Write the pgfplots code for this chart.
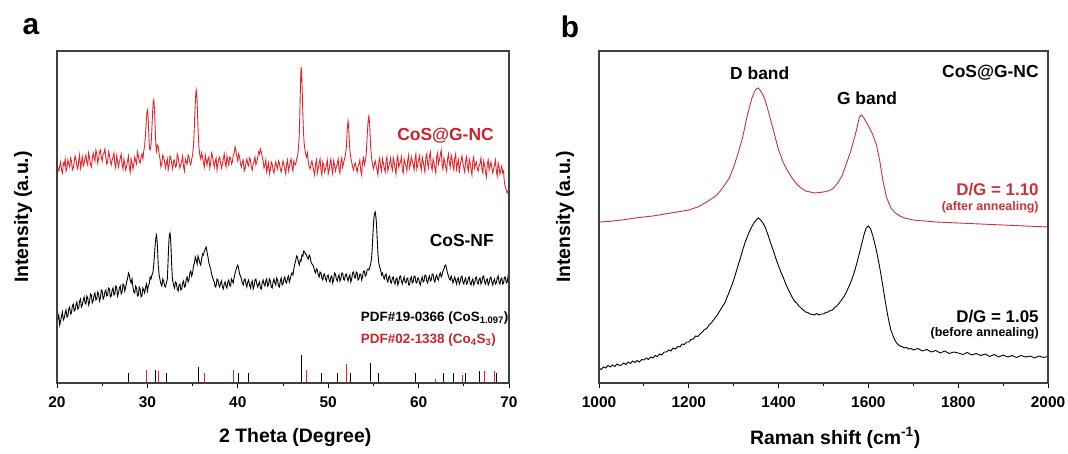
\documentclass[border=0pt]{standalone}
\usepackage{pgfplots}
\pgfplotsset{compat=1.18}
\usepackage{fontspec}
\setmainfont{Liberation Sans}

\definecolor{xrdred}{HTML}{E0262C}
\definecolor{lblred}{HTML}{CC2229}
\definecolor{ramred}{HTML}{C8323C}
\definecolor{boxgray}{rgb}{0.25,0.25,0.26}

\newcommand{\fs}[1]{\fontsize{#1}{#1}\selectfont\bfseries}

% XRD, CoS@G-NC (intensity counted in px above the x axis)
\pgfplotstableread{
x y
20.0 219
20.1 214
20.2 212
20.3 217
20.4 221
20.5 213
20.6 210
20.7 220
20.8 218
20.9 224
21.0 212
21.1 215
21.2 223
21.3 219
21.4 216
21.5 225
21.6 222
21.7 213
21.8 215
21.9 221
22.0 227
22.1 223
22.2 217
22.3 214
22.4 222
22.5 228
22.6 215
22.7 220
22.8 226
22.9 217
23.0 219
23.1 225
23.2 228
23.3 221
23.4 218
23.5 230
23.6 225
23.7 219
23.8 216
23.9 224
24.0 230
24.1 226
24.2 222
24.3 233
24.4 229
24.5 220
24.6 224
24.7 231
24.8 233
24.9 226
25.0 222
25.1 229
25.2 230
25.3 234
25.4 226
25.5 219
25.6 221
25.7 231
25.8 228
25.9 222
26.0 218
26.1 223
26.2 226
26.3 230
26.4 219
26.5 215
26.6 227
26.7 222
26.8 216
26.9 221
27.0 225
27.1 229
27.2 218
27.3 214
27.4 224
27.5 219
27.6 213
27.7 217
27.8 222
27.9 227
28.0 216
28.1 211
28.2 224
28.3 220
28.4 214
28.5 219
28.6 226
28.7 222
28.8 219
28.9 231
29.0 227
29.1 222
29.2 220
29.3 226
29.4 229
29.5 224
29.6 232
29.7 238
29.8 250
29.85 258
29.9 265
29.95 271
30.0 273
30.05 270
30.1 262
30.15 250
30.2 240
30.25 234
30.3 233
30.35 235
30.4 238
30.45 245
30.5 255
30.55 266
30.6 275
30.65 281
30.7 283
30.75 279
30.8 270
30.85 258
30.9 245
30.95 237
31.0 232
31.1 238
31.2 236
31.3 229
31.4 224
31.5 216
31.6 219
31.7 228
31.8 226
31.9 221
32.0 215
32.1 220
32.2 224
32.3 213
32.4 218
32.5 227
32.6 225
32.7 219
32.8 214
32.9 222
33.0 223
33.1 216
33.2 217
33.3 229
33.4 226
33.5 220
33.6 215
33.7 218
33.8 222
33.9 227
34.0 216
34.1 212
34.2 224
34.3 221
34.4 219
34.5 228
34.6 226
34.7 220
34.8 218
34.9 224
35.0 228
35.1 238
35.15 247
35.2 258
35.25 270
35.3 280
35.35 289
35.4 293
35.45 290
35.5 282
35.55 268
35.6 255
35.65 244
35.7 236
35.8 228
35.9 224
36.0 230
36.1 226
36.2 220
36.3 216
36.4 228
36.5 223
36.6 218
36.7 224
36.8 226
36.9 215
37.0 220
37.1 230
37.2 227
37.3 221
37.4 216
37.5 222
37.6 225
37.7 213
37.8 219
37.9 224
38.0 226
38.1 220
38.2 215
38.3 219
38.4 224
38.5 229
38.6 220
38.7 216
38.8 227
38.9 222
39.0 218
39.1 226
39.2 225
39.3 219
39.4 221
39.5 228
39.6 230
39.7 236
39.8 232
39.9 226
40.0 222
40.1 229
40.2 226
40.3 219
40.4 216
40.5 221
40.6 223
40.7 212
40.8 214
40.9 220
41.0 224
41.1 219
41.2 217
41.3 225
41.4 223
41.5 216
41.6 213
41.7 219
41.8 222
41.9 226
42.0 218
42.1 221
42.2 225
42.3 231
42.4 229
42.5 234
42.6 231
42.7 226
42.8 222
42.9 215
43.0 218
43.1 223
43.2 211
43.3 216
43.4 220
43.5 209
43.6 213
43.7 221
43.8 219
43.9 213
44.0 210
44.1 216
44.2 221
44.3 217
44.4 214
44.5 222
44.6 220
44.7 214
44.8 211
44.9 217
45.0 222
45.1 218
45.2 214
45.3 209
45.4 219
45.5 223
45.6 212
45.7 216
45.8 221
45.9 224
46.0 216
46.1 212
46.2 222
46.3 219
46.4 218
46.5 224
46.6 226
46.7 234
46.8 248
46.85 265
46.9 285
46.95 303
47.0 316
47.05 312
47.1 300
47.15 284
47.2 268
47.25 255
47.3 245
47.35 239
47.4 235
47.5 229
47.6 226
47.7 230
47.8 221
47.9 216
48.0 214
48.1 219
48.2 222
48.3 217
48.4 212
48.5 208
48.6 219
48.7 223
48.8 210
48.9 215
49.0 220
49.1 224
49.2 213
49.3 208
49.4 221
49.5 218
49.6 211
49.7 214
49.8 218
49.9 223
50.0 209
50.1 213
50.2 220
50.3 224
50.4 214
50.5 209
50.6 222
50.7 218
50.8 212
50.9 216
51.0 219
51.1 224
51.2 213
51.3 210
51.4 221
51.5 225
51.6 216
51.7 220
51.8 224
51.9 228
52.0 235
52.05 243
52.1 252
52.15 258
52.2 262
52.25 258
52.3 250
52.35 240
52.4 232
52.5 225
52.6 221
52.7 216
52.8 213
52.9 218
53.0 220
53.1 215
53.2 211
53.3 217
53.4 219
53.5 223
53.6 212
53.7 208
53.8 221
53.9 225
54.0 218
54.1 222
54.2 228
54.25 236
54.3 245
54.35 253
54.4 260
54.45 265
54.5 267
54.55 262
54.6 255
54.65 245
54.7 236
54.75 230
54.8 225
54.9 219
55.0 214
55.1 218
55.2 222
55.3 217
55.4 213
55.5 208
55.6 221
55.7 225
55.8 216
55.9 212
56.0 224
56.1 220
56.2 215
56.3 211
56.4 222
56.5 226
56.6 212
56.7 216
56.8 220
56.9 225
57.0 217
57.1 213
57.2 225
57.3 221
57.4 214
57.5 209
57.6 223
57.7 227
57.8 216
57.9 219
58.0 221
58.1 226
58.2 213
58.3 210
58.4 224
58.5 220
58.6 217
58.7 212
58.8 223
58.9 228
59.0 215
59.1 219
59.2 226
59.3 222
59.4 218
59.5 213
59.6 224
59.7 229
59.8 214
59.9 218
60.0 223
60.1 227
60.2 218
60.3 213
60.4 226
60.5 222
60.6 216
60.7 211
60.8 225
60.9 229
61.0 219
61.1 215
61.2 227
61.3 231
61.4 217
61.5 213
61.6 224
61.7 220
61.8 215
61.9 210
62.0 226
62.1 230
62.2 219
62.3 223
62.4 228
62.5 233
62.6 218
62.7 214
62.8 225
62.9 221
63.0 216
63.1 212
63.2 224
63.3 229
63.4 220
63.5 216
63.6 228
63.7 224
63.8 217
63.9 213
64.0 225
64.1 229
64.2 214
64.3 219
64.4 223
64.5 210
64.6 218
64.7 222
64.8 227
64.9 220
65.0 215
65.1 211
65.2 222
65.3 226
65.4 216
65.5 212
65.6 224
65.7 220
65.8 213
65.9 208
66.0 222
66.1 226
66.2 215
66.3 219
66.4 221
66.5 214
66.6 212
66.7 217
66.8 220
66.9 225
67.0 214
67.1 210
67.2 222
67.3 218
67.4 211
67.5 206
67.6 219
67.7 223
67.8 213
67.9 217
68.0 221
68.1 215
68.2 210
68.3 214
68.4 218
68.5 223
68.6 212
68.7 207
68.8 220
68.9 216
69.0 209
69.1 213
69.2 217
69.3 210
69.4 212
69.45 205
69.5 200
69.6 196
69.7 193
69.8 190
69.9 192
70.0 188
}\xrdgnc

% XRD, CoS-NF
\pgfplotstableread{
x y
20.0 60
20.1 64
20.2 68
20.3 58
20.4 62
20.5 67
20.6 71
20.7 63
20.8 65
20.9 70
21.0 73
21.1 66
21.2 67
21.3 74
21.4 76
21.5 69
21.6 70
21.7 77
21.8 79
21.9 72
22.0 73
22.1 78
22.2 81
22.3 74
22.4 75
22.5 82
22.6 84
22.7 76
22.8 78
22.9 83
23.0 86
23.1 80
23.2 79
23.3 87
23.4 85
23.5 78
23.6 81
23.7 89
23.8 88
23.9 80
24.0 82
24.1 88
24.2 90
24.3 83
24.4 84
24.5 91
24.6 89
24.7 82
24.8 85
24.9 93
25.0 92
25.1 84
25.2 86
25.3 91
25.4 93
25.5 87
25.6 88
25.7 95
25.8 94
25.9 86
26.0 87
26.1 93
26.2 95
26.3 88
26.4 89
26.5 97
26.6 96
26.7 87
26.8 90
26.9 95
27.0 97
27.1 89
27.2 91
27.3 99
27.4 98
27.5 92
27.6 96
27.7 101
27.8 104
27.9 110
28.0 108
28.1 103
28.2 100
28.3 104
28.4 96
28.5 91
28.6 90
28.7 97
28.8 95
28.9 87
29.0 88
29.1 96
29.2 94
29.3 86
29.4 87
29.5 95
29.6 93
29.7 90
29.8 96
29.9 99
30.0 92
30.1 97
30.2 99
30.3 106
30.4 104
30.5 108
30.6 110
30.7 118
30.8 130
30.85 137
30.9 142
30.95 146
31.0 148
31.05 145
31.1 138
31.15 128
31.2 118
31.3 108
31.4 103
31.5 99
31.6 97
31.7 104
31.8 102
31.9 97
32.0 96
32.1 100
32.2 104
32.25 113
32.3 125
32.35 136
32.4 145
32.45 149
32.5 150
32.55 146
32.6 138
32.65 127
32.7 115
32.75 107
32.8 102
32.9 98
33.0 95
33.1 101
33.2 100
33.3 94
33.4 92
33.5 98
33.6 99
33.7 93
33.8 94
33.9 100
34.0 102
34.1 96
34.2 97
34.3 104
34.4 106
34.5 101
34.6 103
34.7 110
34.8 112
34.9 107
35.0 110
35.1 117
35.2 120
35.3 126
35.4 123
35.5 119
35.6 127
35.7 124
35.8 120
35.9 118
36.0 124
36.1 129
36.2 128
36.3 132
36.4 134
36.5 136
36.6 131
36.7 126
36.8 120
36.9 117
37.0 114
37.1 109
37.2 106
37.3 103
37.4 101
37.5 96
37.6 97
37.7 104
37.8 103
37.9 98
38.0 96
38.1 100
38.2 102
38.3 96
38.4 94
38.5 99
38.6 101
38.7 97
38.8 95
38.9 101
39.0 103
39.1 98
39.2 97
39.3 104
39.4 102
39.5 100
39.6 106
39.7 110
39.8 113
39.9 116
40.0 118
40.1 114
40.2 109
40.3 107
40.4 104
40.5 100
40.6 98
40.7 103
40.8 104
40.9 99
41.0 96
41.1 101
41.2 103
41.3 98
41.4 95
41.5 100
41.6 102
41.7 94
41.8 97
41.9 103
42.0 104
42.1 99
42.2 96
42.3 99
42.4 101
42.5 95
42.6 94
42.7 100
42.8 103
42.9 99
43.0 97
43.1 102
43.2 104
43.3 97
43.4 98
43.5 104
43.6 102
43.7 96
43.8 95
43.9 101
44.0 104
44.1 100
44.2 98
44.3 105
44.4 103
44.5 97
44.6 96
44.7 102
44.8 105
44.9 98
45.0 99
45.1 104
45.2 106
45.3 101
45.4 100
45.5 105
45.6 107
45.7 101
45.8 104
45.9 108
46.0 110
46.1 108
46.2 114
46.3 119
46.4 122
46.5 127
46.6 126
46.7 121
46.8 118
46.9 123
47.0 122
47.1 128
47.2 127
47.3 132
47.4 131
47.5 129
47.6 128
47.7 125
47.8 124
47.9 128
48.0 126
48.1 121
48.2 119
48.3 118
48.4 116
48.5 112
48.6 110
48.7 114
48.8 113
48.9 108
49.0 106
49.1 111
49.2 110
49.3 105
49.4 103
49.5 108
49.6 109
49.7 104
49.8 102
49.9 107
50.0 108
50.1 103
50.2 101
50.3 106
50.4 107
50.5 100
50.6 103
50.7 110
50.8 109
50.9 104
51.0 102
51.1 106
51.2 108
51.3 102
51.4 104
51.5 110
51.6 110
51.7 104
51.8 103
51.9 108
52.0 109
52.1 105
52.2 102
52.3 106
52.4 108
52.5 101
52.6 104
52.7 110
52.8 111
52.9 106
53.0 105
53.1 111
53.2 110
53.3 103
53.4 104
53.5 109
53.6 109
53.7 103
53.8 106
53.9 112
54.0 112
54.1 107
54.2 108
54.3 113
54.4 114
54.5 113
54.6 116
54.7 119
54.8 125
54.85 132
54.9 140
54.95 149
55.0 158
55.05 164
55.1 168
55.15 170
55.2 171
55.25 168
55.3 164
55.35 157
55.4 148
55.45 139
55.5 130
55.55 124
55.6 120
55.7 116
55.8 113
55.9 108
56.0 110
56.1 106
56.2 104
56.3 108
56.4 109
56.5 103
56.6 101
56.7 106
56.8 107
56.9 101
57.0 100
57.1 105
57.2 106
57.3 101
57.4 99
57.5 104
57.6 105
57.7 98
57.8 101
57.9 106
58.0 107
58.1 102
58.2 99
58.3 103
58.4 106
58.5 101
58.6 100
58.7 104
58.8 105
58.9 98
59.0 98
59.1 104
59.2 106
59.3 100
59.4 101
59.5 107
59.6 107
59.7 101
59.8 100
59.9 105
60.0 105
60.1 100
60.2 98
60.3 103
60.4 106
60.5 101
60.6 102
60.7 108
60.8 108
60.9 102
61.0 100
61.1 105
61.2 107
61.3 102
61.4 103
61.5 109
61.6 109
61.7 103
61.8 101
61.9 106
62.0 108
62.1 104
62.2 103
62.3 108
62.4 110
62.5 106
62.6 108
62.7 112
62.8 114
62.9 117
63.0 118
63.1 114
63.2 110
63.3 107
63.4 104
63.5 103
63.6 107
63.7 104
63.8 100
63.9 103
64.0 106
64.1 102
64.2 99
64.3 104
64.4 105
64.5 99
64.6 101
64.7 106
64.8 107
64.9 101
65.0 99
65.1 103
65.2 105
65.3 99
65.4 100
65.5 105
65.6 106
65.7 100
65.8 98
65.9 102
66.0 104
66.1 98
66.2 100
66.3 105
66.4 106
66.5 100
66.6 99
66.7 104
66.8 105
66.9 99
67.0 101
67.1 106
67.2 107
67.3 101
67.4 99
67.5 103
67.6 104
67.7 98
67.8 100
67.9 105
68.0 106
68.1 101
68.2 98
68.3 102
68.4 104
68.5 99
68.6 100
68.7 105
68.8 107
68.9 101
69.0 99
69.1 104
69.2 105
69.3 99
69.4 100
69.5 106
69.6 106
69.7 100
69.8 101
69.9 107
70.0 104
}\xrdnf

% reference patterns
\pgfplotstableread{
x y
27.9 10.3
30.9 13.3
32.1 10.3
35.6 16
40.1 10.3
41.2 10.3
47.05 28
49.2 10.3
51.0 10.3
52.5 10.3
54.7 20
55.6 10.3
59.6 10.3
62.8 10.3
63.8 10.3
65.2 10.3
66.7 11.7
68.6 10.3
}\pdfcos

\pgfplotstableread{
x y
29.9 13.3
31.2 11.7
36.3 10
39.5 13.3
47.6 13.3
52.0 19.3
54.7 2
61.9 4
64.9 8.3
67.3 11.7
68.4 11.7
}\pdfcofs

% Raman, after annealing
\pgfplotstableread{
x y
1000 161
1020 161.5
1040 162.5
1060 163.5
1080 165
1100 166
1120 167
1140 168.5
1160 170
1180 171.5
1200 173
1220 176
1240 181
1260 187
1270 192
1280 198
1290 205
1300 216
1310 230
1320 246
1330 267
1340 284
1345 290
1350 294
1355 295
1360 292
1365 288
1370 283
1380 267
1390 250
1400 233
1410 221
1420 212
1430 205
1440 199
1450 195
1460 192
1470 191
1480 190
1490 190.5
1500 191
1510 192
1520 194
1530 199
1540 206
1550 218
1560 231
1570 247
1575 256
1580 266
1585 268
1590 265
1600 257
1610 248
1618 238
1625 223
1632 203
1640 186
1650 175
1660 170
1670 167
1680 165
1700 163
1750 161
1800 160
1850 159
1900 158
1950 157
2000 156
}\ramgnc

% Raman, before annealing
\pgfplotstableread{
x y
1000 15
1005 13.5
1010 16
1015 15
1020 17.5
1025 16
1030 18
1035 16.5
1040 19
1045 17.5
1050 18
1055 20
1060 18.5
1065 21
1070 19.5
1075 22
1080 20.5
1085 22.5
1090 21
1095 23.5
1100 23
1105 25
1110 23.5
1115 26
1120 25
1125 27.5
1130 26.5
1135 29
1140 28
1145 31
1150 31
1155 33
1160 32
1165 35
1170 34
1175 36.5
1180 36
1185 39
1190 38.5
1195 41
1200 41
1205 43.5
1210 44
1215 47
1220 46.5
1225 49
1230 51
1235 53.5
1240 54.5
1245 58
1250 60
1255 63
1260 66
1265 69
1270 73
1275 76.5
1280 80
1285 85.5
1290 91
1295 97
1300 103
1305 110.5
1310 118
1315 125
1320 133
1325 140
1330 146
1335 151.5
1340 156
1345 160
1350 163
1355 165
1360 163
1365 160
1370 156
1375 150
1380 143
1385 136.5
1390 130
1395 123
1400 117
1405 111
1410 106
1415 100
1420 95
1425 90.5
1430 86
1435 82
1440 80
1445 77
1450 75
1455 73
1460 71
1465 70.5
1470 69
1475 68.5
1480 68
1485 69.5
1490 68
1495 69
1500 69
1505 70.5
1510 71
1515 72.5
1520 73
1525 75.5
1530 77
1535 80
1540 83
1545 86
1550 90
1555 95
1560 100
1565 106
1570 113
1575 121
1580 130
1585 139
1590 148
1595 155
1600 157
1605 154
1610 147
1615 138
1620 128
1625 116
1630 103
1635 89
1640 75
1645 63
1650 53
1655 47
1660 42
1665 39
1670 37
1675 36.5
1680 35
1685 35.5
1690 34
1695 34.5
1700 33
1710 34.5
1720 32
1730 33.5
1740 31
1750 32.5
1760 30
1770 32
1780 29.5
1790 31
1800 30
1810 28.5
1820 30.5
1830 28
1840 29.5
1850 27.5
1860 29
1870 26.5
1880 28.5
1890 26
1900 28
1910 26
1920 27.5
1930 25.5
1940 27.5
1950 26
1960 27
1970 25
1980 27
1990 25.5
2000 26.5
}\ramnf

\pgfplotsset{
  panel/.style={
    scale only axis,
    height=332bp,
    ymin=0, ymax=332,
    ytick=\empty,
    axis line style={boxgray, line width=1.3bp},
    xtick pos=bottom,
    tick align=outside,
    major tick length=5bp,
    minor tick length=2.5bp,
    tick style={black, line width=1bp},
    minor x tick num=1,
    /pgf/number format/assume math mode=true,
    xticklabel style={font=\fs{15.5}, yshift=-5bp},
    xlabel style={font=\fs{19.5}, anchor=center},
    ylabel style={font=\fs{19.5}, anchor=center},
  }
}

\begin{document}
\begin{tikzpicture}
\useasboundingbox (0,0) rectangle (1068bp,454bp);

\node[font=\fs{30}] at (31bp,427bp) {a};
\node[font=\fs{30}] at (570bp,427bp) {b};

\begin{axis}[panel,
  at={(57bp,71bp)}, anchor=south west,
  width=452bp,
  xmin=20, xmax=70,
  xtick={20,30,...,70},
  xlabel={2 Theta (Degree)},
  xlabel style={at={(axis description cs:0.527,-0.163)}},
  ylabel={Intensity (a.u.)},
  ylabel style={at={(axis description cs:-0.075,0.5)}},
]
\addplot[xrdred, line width=0.9bp] table {\xrdgnc};
\addplot[black, line width=0.9bp] table {\xrdnf};
\addplot[black, ycomb, line width=0.9bp] table {\pdfcos};
\addplot[xrdred, ycomb, line width=0.9bp] table {\pdfcofs};
\node[anchor=east, text=lblred, font=\fs{17.5}] at (axis cs:68.7,247) {CoS@G-NC};
\node[anchor=east, font=\fs{17.5}] at (axis cs:68.7,142) {CoS-NF};
\node[anchor=west, font=\fs{13.5}, inner sep=0pt] at (axis cs:53.6,65) {PDF\#19-0366 (CoS\textsubscript{1.097})};
\node[anchor=west, text=lblred, font=\fs{13.5}, inner sep=0pt] at (axis cs:53.6,43) {PDF\#02-1338 (Co\textsubscript{4}S\textsubscript{3})};
\end{axis}

\begin{axis}[panel,
  at={(599bp,71bp)}, anchor=south west,
  width=449bp,
  xmin=1000, xmax=2000,
  xtick={1000,1200,...,2000},
  xlabel={Raman shift (cm\textsuperscript{-1})},
  xlabel style={at={(axis description cs:0.526,-0.165)}},
  ylabel={Intensity (a.u.)},
  ylabel style={at={(axis description cs:-0.0757,0.5)}},
  xticklabel style={/pgf/number format/1000 sep={}},
]
\addplot[ramred, line width=0.9bp] table {\ramgnc};
\addplot[black, line width=0.9bp] table {\ramnf};
\node[font=\fs{17.5}] at (axis cs:1358,310) {D band};
\node[font=\fs{17.5}] at (axis cs:1597,285) {G band};
\node[anchor=east, font=\fs{17.5}] at (axis cs:1987,310) {CoS@G-NC};
\node[anchor=east, text=ramred, font=\fs{17}] at (axis cs:1987,193) {D/G = 1.10};
\node[anchor=east, text=ramred, font=\fs{12.5}] at (axis cs:1987,176) {(after annealing)};
\node[anchor=east, font=\fs{17}] at (axis cs:1987,66) {D/G = 1.05};
\node[anchor=east, font=\fs{12.5}] at (axis cs:1987,50) {(before annealing)};
\end{axis}

% panel frames
\draw[boxgray, line width=1.4bp] (57bp,71bp) rectangle (509bp,403bp);
\draw[boxgray, line width=1.4bp] (599bp,71bp) rectangle (1048bp,403bp);
\end{tikzpicture}
\end{document}
